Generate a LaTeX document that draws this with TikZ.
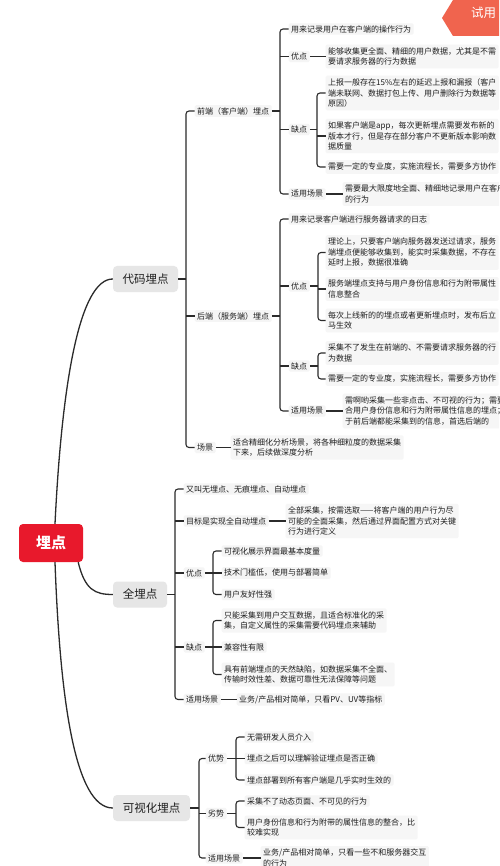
\documentclass[tikz,border=0pt]{standalone}
\usepackage{fontspec}
\setmainfont{Noto Sans CJK SC}
\definecolor{ln}{HTML}{2B2B2B}
\definecolor{txt}{HTML}{1E1E1E}
\definecolor{boxbg}{HTML}{F5F5F5}
\definecolor{txtbg}{HTML}{F6F6F6}
\definecolor{lonebg}{HTML}{E6E6E6}
\definecolor{rootred}{HTML}{E8192C}
\definecolor{badge}{HTML}{F0644E}
\tikzset{
  lbl/.style={anchor=west, fill=boxbg, rounded corners=1.5pt, inner xsep=2.5pt, inner ysep=2pt,
    font=\fontsize{8}{10.5}\selectfont, text=txt, align=left},
  txtbox/.style={lbl, fill=txtbg, inner ysep=3pt},
  lone/.style={fill=lonebg, rounded corners=4pt, text=txt, font=\fontsize{11.5}{14}\selectfont,
    minimum height=26pt, inner sep=0pt},
  rootbox/.style={fill=rootred, rounded corners=4pt, text=white, font=\fontsize{15}{18}\selectfont\bfseries,
    minimum width=64pt, minimum height=38pt, inner sep=0pt},
  conn/.style={draw=ln, line width=1.1pt, rounded corners=3pt},
  curve/.style={draw=ln, line width=1.3pt},
}
\begin{document}
\begin{tikzpicture}[x=1pt,y=-1pt]
\useasboundingbox (0,0) rectangle (499,866);
\fill[white] (0,0) rectangle (499,866);
\clip (0,0) rectangle (499,866);

% root and level one
\node[rootbox] (root) at (51,543) {埋点};
\node[lone, minimum width=65pt] (daima) at (145.5,279) {代码埋点};
\node[lone, minimum width=54pt] (quan) at (140,594.5) {全埋点};
\node[lone, minimum width=77pt] (keshi) at (151.5,808) {可视化埋点};

\draw[curve] ([xshift=4pt]root.north) .. controls (62,380) and (80,279) .. (daima.west);
\draw[curve] ([xshift=4pt]root.south) .. controls (60,700) and (75,808) .. (keshi.west);
\draw[curve] ([xshift=-5pt]root.south east) .. controls (85,590) and (95,594.5) .. (quan.west);

% bracket x positions
\coordinate (B0) at (186,0);
\coordinate (Bfe) at (280,0);
\coordinate (Bfe3) at (317,0);
\coordinate (Bbe2) at (318,0);
\coordinate (Bq) at (175,0);
\coordinate (Bq3) at (213,0);
\coordinate (Bk) at (199,0);
\coordinate (Bk1) at (236,0);

% ---------- 代码埋点 ----------
\node[lbl] (fe) at (194.5,111) {前端（客户端）埋点};
\node[lbl] (be) at (194.5,316) {后端（服务端）埋点};
\node[lbl] (cj) at (194.5,447.5) {场景};
\node[txtbox] (cjt) at (230.5,447.5) {适合精细化分析场景，将各种细粒度的数据采集\\下来，后续做深度分析};

\draw[conn] (daima.east) -- (daima.east -| B0);
\draw[conn] (fe.west) -- (fe.west -| B0) -- (cj.west -| B0) -- (cj.west);
\draw[conn] (be.west -| B0) -- (be.west);
\draw[conn] (cj.east) -- (cjt.west);

% front end
\node[lbl] (fe1) at (288.5,29) {用来记录用户在客户端的操作行为};
\node[lbl] (fe2) at (288.5,56.5) {优点};
\node[txtbox] (fe2t) at (325.5,56.5) {能够收集更全面、精细的用户数据，尤其是不需\\要请求服务器的行为数据};
\node[lbl] (fe3) at (288.5,129.5) {缺点};
\node[txtbox] (fe3a) at (325.5,93) {上报一般存在15\%左右的延迟上报和漏报（客户\\端未联网、数据打包上传、用户删除行为数据等\\原因）};
\node[txtbox] (fe3b) at (325.5,136) {如果客户端是app，每次更新埋点需要发布新的\\版本才行，但是存在部分客户不更新版本影响数\\据质量};
\node[txtbox] (fe3c) at (325.5,167) {需要一定的专业度，实施流程长，需要多方协作};
\node[lbl] (fe4) at (288.5,194) {适用场景};
\node[txtbox] (fe4t) at (342.5,194) {需要最大限度地全面、精细地记录用户在客户端\\的行为};

\draw[conn] (fe.east) -- (fe.east -| Bfe);
\draw[conn] (fe1.west) -- (fe1.west -| Bfe) -- (fe4.west -| Bfe) -- (fe4.west);
\draw[conn] (fe2.west -| Bfe) -- (fe2.west);
\draw[conn] (fe3.west -| Bfe) -- (fe3.west);
\draw[conn] (fe2.east) -- (fe2t.west);
\draw[conn] (fe4.east) -- (fe4t.west);
\draw[conn] (fe3.east) -- (fe3.east -| Bfe3);
\draw[conn] (fe3a.west) -- (fe3a.west -| Bfe3) -- (fe3c.west -| Bfe3) -- (fe3c.west);
\draw[conn] (fe3b.west -| Bfe3) -- (fe3b.west);

% back end
\node[lbl] (be1) at (288.5,219) {用来记录客户端进行服务器请求的日志};
\node[lbl] (be2) at (288.5,286) {优点};
\node[txtbox] (be2a) at (325.5,252.5) {理论上，只要客户端向服务器发送过请求，服务\\端埋点便能够收集到，能实时采集数据，不存在\\延时上报，数据很准确};
\node[txtbox] (be2b) at (325.5,289) {服务端埋点支持与用户身份信息和行为附带属性\\信息整合};
\node[txtbox] (be2c) at (325.5,320.5) {每次上线新的的埋点或者更新埋点时，发布后立\\马生效};
\node[lbl] (be3) at (288.5,366) {缺点};
\node[txtbox] (be3a) at (325.5,353) {采集不了发生在前端的、不需要请求服务器的行\\为数据};
\node[txtbox] (be3b) at (325.5,379) {需要一定的专业度，实施流程长，需要多方协作};
\node[lbl] (be4) at (288.5,411) {适用场景};
\node[txtbox] (be4t) at (342.5,411) {需啊哟采集一些非点击、不可视的行为；需要结\\合用户身份信息和行为附带属性信息的埋点；对\\于前后端都能采集到的信息，首选后端的};

\draw[conn] (be.east) -- (be.east -| Bfe);
\draw[conn] (be1.west) -- (be1.west -| Bfe) -- (be4.west -| Bfe) -- (be4.west);
\draw[conn] (be2.west -| Bfe) -- (be2.west);
\draw[conn] (be3.west -| Bfe) -- (be3.west);
\draw[conn] (be4.east) -- (be4t.west);
\draw[conn] (be2.east) -- (be2.east -| Bbe2);
\draw[conn] (be2a.west) -- (be2a.west -| Bbe2) -- (be2c.west -| Bbe2) -- (be2c.west);
\draw[conn] (be2b.west -| Bbe2) -- (be2b.west);
\draw[conn] (be3.east) -- (be3.east -| Bbe2);
\draw[conn] (be3a.west) -- (be3a.west -| Bbe2) -- (be3b.west -| Bbe2) -- (be3b.west);

% ---------- 全埋点 ----------
\node[lbl] (q1) at (183.5,489) {又叫无埋点、无痕埋点、自动埋点};
\node[lbl] (q2) at (183.5,521) {目标是实现全自动埋点};
\node[txtbox] (q2t) at (285.5,521) {全部采集，按需选取——将客户端的用户行为尽\\可能的全面采集，然后通过界面配置方式对关键\\行为进行定义};
\node[lbl] (q3) at (183.5,573) {优点};
\node[lbl] (q3a) at (221.5,551) {可视化展示界面最基本度量};
\node[lbl] (q3b) at (221.5,573) {技术门槛低，使用与部署简单};
\node[lbl] (q3c) at (221.5,594.5) {用户友好性强};
\node[lbl] (q4) at (183.5,647) {缺点};
\node[txtbox] (q4a) at (221.5,620.5) {只能采集到用户交互数据，且适合标准化的采\\集，自定义属性的采集需要代码埋点来辅助};
\node[lbl] (q4b) at (221.5,647) {兼容性有限};
\node[txtbox] (q4c) at (221.5,674.5) {具有前端埋点的天然缺陷，如数据采集不全面、\\传输时效性差、数据可靠性无法保障等问题};
\node[lbl] (q5) at (183.5,699.5) {适用场景};
\node[lbl] (q5t) at (236.5,699.5) {业务/产品相对简单，只看PV、UV等指标};

\draw[conn] (quan.east) -- (quan.east -| Bq);
\draw[conn] (q1.west) -- (q1.west -| Bq) -- (q5.west -| Bq) -- (q5.west);
\draw[conn] (q2.west -| Bq) -- (q2.west);
\draw[conn] (q3.west -| Bq) -- (q3.west);
\draw[conn] (q4.west -| Bq) -- (q4.west);
\draw[conn] (q2.east) -- (q2t.west);
\draw[conn] (q5.east) -- (q5t.west);
\draw[conn] (q3.east) -- (q3.east -| Bq3);
\draw[conn] (q3a.west) -- (q3a.west -| Bq3) -- (q3c.west -| Bq3) -- (q3c.west);
\draw[conn] (q3b.west -| Bq3) -- (q3b.west);
\draw[conn] (q4.east) -- (q4.east -| Bq3);
\draw[conn] (q4a.west) -- (q4a.west -| Bq3) -- (q4c.west -| Bq3) -- (q4c.west);
\draw[conn] (q4b.west -| Bq3) -- (q4b.west);

% ---------- 可视化埋点 ----------
\node[lbl] (k1) at (205.5,758.5) {优势};
\node[lbl] (k1a) at (244.5,737) {无需研发人员介入};
\node[lbl] (k1b) at (244.5,758.5) {埋点之后可以理解验证埋点是否正确};
\node[lbl] (k1c) at (244.5,780) {埋点部署到所有客户端是几乎实时生效的};
\node[lbl] (k2) at (205.5,813.5) {劣势};
\node[lbl] (k2a) at (244.5,801) {采集不了动态页面、不可见的行为};
\node[txtbox] (k2b) at (244.5,827.5) {用户身份信息和行为附带的属性信息的整合，比\\较难实现};
\node[lbl] (k3) at (205.5,858) {适用场景};
\node[txtbox] (k3t) at (260.5,858) {业务/产品相对简单，只看一些不和服务器交互\\的行为};

\draw[conn] (keshi.east) -- (keshi.east -| Bk);
\draw[conn] (k1.west) -- (k1.west -| Bk) -- (k3.west -| Bk) -- (k3.west);
\draw[conn] (k2.west -| Bk) -- (k2.west);
\draw[conn] (k3.east) -- (k3t.west);
\draw[conn] (k1.east) -- (k1.east -| Bk1);
\draw[conn] (k1a.west) -- (k1a.west -| Bk1) -- (k1c.west -| Bk1) -- (k1c.west);
\draw[conn] (k1b.west -| Bk1) -- (k1b.west);
\draw[conn] (k2.east) -- (k2.east -| Bk1);
\draw[conn] (k2a.west) -- (k2a.west -| Bk1) -- (k2b.west -| Bk1) -- (k2b.west);

% badge
\fill[badge] (442,18) -- (453,0) -- (499,0) -- (499,36) -- (453,36) -- cycle;
\node[anchor=west, inner sep=0pt, text=white, font=\fontsize{12.5}{14}\selectfont] (badgetxt) at (471,13) {试用};
\end{tikzpicture}
\end{document}
